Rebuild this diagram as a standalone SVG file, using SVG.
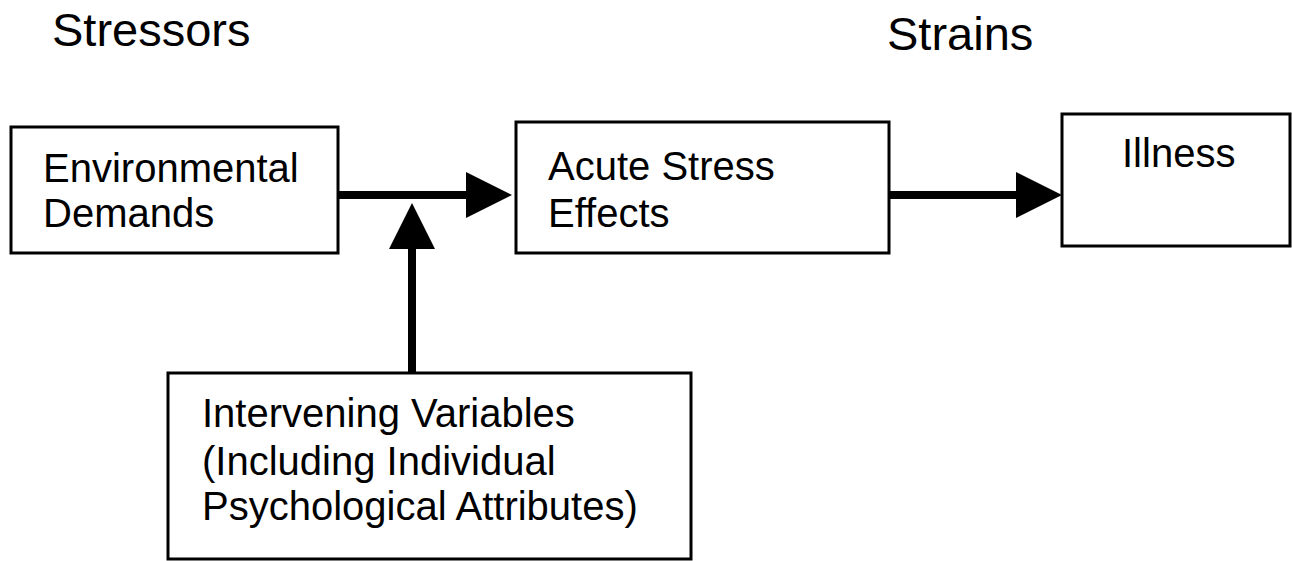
<svg xmlns="http://www.w3.org/2000/svg" width="1292" height="561" viewBox="0 0 1292 561">
  <style>
    .box { fill: #ffffff; stroke: #000000; stroke-width: 3; }
    .lbl { font-family: "Liberation Sans", Arial, sans-serif; font-size: 40px; fill: #000000; }
    .hdr { font-family: "Liberation Sans", Arial, sans-serif; font-size: 47px; fill: #000000; }
    .conn { stroke: #000000; stroke-width: 8; fill: none; marker-end: url(#head); }
  </style>
  <defs>
    <marker id="head" markerUnits="userSpaceOnUse" viewBox="0 0 46 46" refX="1" refY="23" markerWidth="46" markerHeight="46" orient="auto">
      <path d="M0,0 L46,23 L0,46 Z" fill="#000000"/>
    </marker>
  </defs>
  <rect width="1292" height="561" fill="#ffffff"/>

  <g id="header-stressors">
    <text class="hdr" x="52" y="46">Stressors</text>
  </g>
  <g id="header-strains">
    <text class="hdr" x="887" y="50">Strains</text>
  </g>

  <g id="connectors">
    <line class="conn" x1="338" y1="195" x2="467" y2="195"/>
    <line class="conn" x1="889" y1="195" x2="1017" y2="195"/>
    <line class="conn" x1="412" y1="373" x2="412" y2="248"/>
  </g>

  <g id="node-environmental">
    <rect class="box" x="11" y="127" width="327" height="126"/>
    <text class="lbl" x="43" y="182">Environmental</text>
    <text class="lbl" x="43" y="227">Demands</text>
  </g>

  <g id="node-acute">
    <rect class="box" x="516" y="122" width="373" height="131"/>
    <text class="lbl" x="548" y="180">Acute Stress</text>
    <text class="lbl" x="548" y="227">Effects</text>
  </g>

  <g id="node-illness">
    <rect class="box" x="1062" y="114" width="228" height="132"/>
    <text class="lbl" x="1122" y="167">Illness</text>
  </g>

  <g id="node-intervening">
    <rect class="box" x="168" y="373" width="523" height="186"/>
    <text class="lbl" x="202" y="427">Intervening Variables</text>
    <text class="lbl" x="202" y="475">(Including Individual</text>
    <text class="lbl" x="202" y="520">Psychological Attributes)</text>
  </g>
</svg>
